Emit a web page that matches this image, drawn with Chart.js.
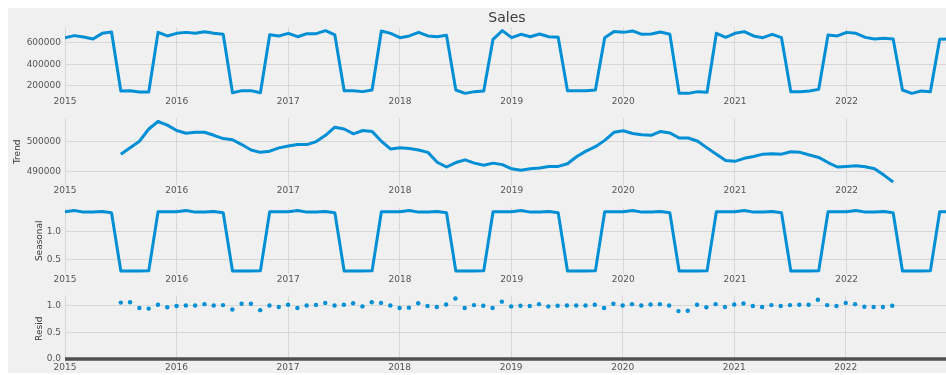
<!DOCTYPE html>
<html>
<head>
<meta charset="utf-8">
<script src="https://cdn.jsdelivr.net/npm/chart.js@4"></script>
<style>
html, body { margin: 0; padding: 0; background: #ffffff; overflow: hidden; width: 946px; height: 375px; }
#bg { position: absolute; left: 8px; top: 8px; width: 938px; height: 365px; background: #f0f0f0; }
canvas { position: absolute; left: 0; }
</style>
</head>
<body>
<div id="bg"></div>
<canvas id="sales" width="952" height="111" style="top:0px"></canvas>
<canvas id="trend" width="952" height="89" style="top:110px"></canvas>
<canvas id="seasonal" width="952" height="89" style="top:199px"></canvas>
<canvas id="resid" width="952" height="89" style="top:287px"></canvas>
<script>
// monthly series, Jan 2015 - Dec 2022
var years = ['2015', '2016', '2017', '2018', '2019', '2020', '2021', '2022'];

var sales = [
    646000, 665000, 652000, 634000, 686000, 698000, 154000, 157000, 145000, 145000, 695000, 662000,
    686000, 695000, 686000, 701000, 686000, 677000, 138000, 157000, 157000, 138000, 674000, 662000,
    686000, 655000, 683000, 683000, 711000, 671000, 157000, 157000, 148000, 163000, 708000, 686000,
    646000, 662000, 695000, 662000, 655000, 668000, 163000, 132000, 148000, 154000, 631000, 711000,
    646000, 677000, 655000, 680000, 655000, 649000, 157000, 157000, 157000, 163000, 646000, 702000,
    695000, 708000, 677000, 680000, 698000, 677000, 132000, 132000, 148000, 142000, 686000, 649000,
    686000, 702000, 662000, 646000, 677000, 646000, 148000, 148000, 154000, 169000, 671000, 662000,
    695000, 686000, 649000, 634000, 640000, 634000, 163000, 132000, 154000, 148000, 631000, 634000
];

// trend and resid only exist from Jul 2015 to Jun 2022 (12-month centred average)
var trendStart = 6;
var trend = [
                                            495700, 497800, 500000, 504100, 506600, 505400,
    503600, 502700, 503000, 503000, 502000, 500900, 500500, 498900, 497100, 496300, 496700, 497800,
    498400, 498900, 498900, 499900, 502000, 504700, 504100, 502500, 503600, 503300, 500000, 497400,
    497800, 497600, 497100, 496300, 493000, 491400, 492900, 493800, 492700, 492000, 492700, 492200,
    490800, 490300, 490800, 491100, 491600, 491600, 492500, 494900, 496700, 498200, 500300, 503000,
    503500, 502600, 502200, 502000, 503300, 502800, 501100, 501100, 500000, 497800, 495700, 493600,
    493300, 494300, 494900, 495700, 495800, 495700, 496500, 496300, 495400, 494600, 492900, 491400,
    491600, 491800, 491500, 490800, 488700, 486400
];

var seasonal = [
    1.343, 1.365, 1.337, 1.337, 1.348, 1.326, 0.298, 0.298, 0.298, 0.300, 1.343, 1.343,
    1.343, 1.365, 1.337, 1.337, 1.348, 1.326, 0.298, 0.298, 0.298, 0.300, 1.343, 1.343,
    1.343, 1.365, 1.337, 1.337, 1.348, 1.326, 0.298, 0.298, 0.298, 0.300, 1.343, 1.343,
    1.343, 1.365, 1.337, 1.337, 1.348, 1.326, 0.298, 0.298, 0.298, 0.300, 1.343, 1.343,
    1.343, 1.365, 1.337, 1.337, 1.348, 1.326, 0.298, 0.298, 0.298, 0.300, 1.343, 1.343,
    1.343, 1.365, 1.337, 1.337, 1.348, 1.326, 0.298, 0.298, 0.298, 0.300, 1.343, 1.343,
    1.343, 1.365, 1.337, 1.337, 1.348, 1.326, 0.298, 0.298, 0.298, 0.300, 1.343, 1.343,
    1.343, 1.365, 1.337, 1.337, 1.348, 1.326, 0.298, 0.298, 0.298, 0.300, 1.343, 1.343
];

var resid = [
                                      1.053, 1.059, 0.953, 0.941, 1.012, 0.965,
    0.988, 1.000, 1.000, 1.024, 1.000, 1.006, 0.924, 1.030, 1.030, 0.912, 1.000, 0.970,
    1.012, 0.953, 1.000, 1.010, 1.047, 1.000, 1.012, 1.041, 0.982, 1.059, 1.047, 1.000,
    0.953, 0.959, 1.041, 0.988, 0.971, 1.018, 1.129, 0.953, 1.006, 0.994, 0.953, 1.071,
    0.982, 0.994, 0.988, 1.024, 0.982, 0.994, 1.000, 1.000, 1.000, 1.012, 0.953, 1.030,
    1.000, 1.024, 1.000, 1.018, 1.024, 1.000, 0.894, 0.900, 1.012, 0.965, 1.024, 0.971,
    1.018, 1.035, 0.988, 0.971, 1.006, 0.988, 1.006, 1.012, 1.012, 1.106, 1.006, 0.988,
    1.047, 1.024, 0.976, 0.971, 0.971, 0.994
];

var salesTicks = [200000, 400000, 600000];
var trendTicks = [490000, 500000];
var seasonalTicks = [0.5, 1.0];
var residTicks = [0.0, 0.5, 1.0];

var BLUE = '#008fd5';
var GRID = '#d7d7d7';
var TICK = '#555555';
var LABEL = '#3a3a3a';
var FONT = 'DejaVu Sans';
var LAST_MONTH = 95;

// x value is months since Jan 2015
function points(values, start) {
    return values.map(function (v, i) { return {x: start + i, y: v}; });
}

// matplotlib-style autoscale: data range plus 5% each side
function autoRange(values) {
    var lo = Math.min.apply(null, values);
    var hi = Math.max.apply(null, values);
    var m = (hi - lo) * 0.05;
    return {min: lo - m, max: hi + m};
}

function lineSet(data) {
    return {
        data: data,
        borderColor: BLUE,
        borderWidth: 3,
        borderJoinStyle: 'round',
        pointRadius: 0,
        tension: 0,
        fill: false
    };
}

function makePanel(id, p) {
    var range = autoRange(p.range);
    var yScale = {
        min: range.min,
        max: range.max,
        afterBuildTicks: function (s) {
            s.ticks = p.ticks.map(function (v) { return {value: v}; });
        },
        afterFit: function (s) { s.width = 65; },
        ticks: {
            padding: 4,
            color: TICK,
            font: {family: FONT, size: 9, lineHeight: 1},
            callback: p.format
        },
        grid: {color: GRID, drawTicks: false},
        border: {display: false},
        title: {
            display: !!p.label,
            text: p.label || '',
            color: LABEL,
            font: {family: FONT, size: 9, lineHeight: 1},
            padding: {top: p.labelPad || 0, bottom: 0}
        }
    };

    var config = {
        type: 'line',
        data: {datasets: p.datasets},
        options: {
            responsive: false,
            animation: false,
            layout: {padding: {top: p.padTop, right: 3, left: 0, bottom: 0}},
            scales: {
                x: {
                    type: 'linear',
                    min: 0,
                    max: LAST_MONTH,
                    afterBuildTicks: function (s) {
                        s.ticks = years.map(function (y, i) { return {value: i * 12}; });
                    },
                    afterFit: function (s) { s.height = p.xHeight; },
                    ticks: {
                        autoSkip: false,
                        maxRotation: 0,
                        padding: 1,
                        color: TICK,
                        font: {family: FONT, size: 9, lineHeight: 1},
                        callback: function (v, i) { return years[i]; }
                    },
                    grid: {color: GRID, drawTicks: false},
                    border: {display: false}
                },
                y: yScale
            },
            plugins: {
                legend: {display: false},
                tooltip: {enabled: false},
                title: {
                    display: !!p.title,
                    text: p.title || '',
                    fullSize: false,
                    color: LABEL,
                    font: {family: FONT, size: 14, weight: 'normal', lineHeight: 1.2},
                    padding: {top: 10, bottom: 0.7}
                }
            }
        }
    };
    return new Chart(document.getElementById(id).getContext('2d'), config);
}

makePanel('sales', {
    title: 'Sales',
    padTop: 0,
    xHeight: 14.5,
    datasets: [lineSet(points(sales, 0))],
    range: sales,
    ticks: salesTicks,
    format: function (v) { return String(v); }
});

makePanel('trend', {
    label: 'Trend',
    labelPad: 13.5,
    padTop: 6,
    xHeight: 14,
    datasets: [lineSet(points(trend, trendStart))],
    range: trend,
    ticks: trendTicks,
    format: function (v) { return String(v); }
});

makePanel('seasonal', {
    label: 'Seasonal',
    labelPad: 34.7,
    padTop: 5.5,
    xHeight: 14,
    datasets: [lineSet(points(seasonal, 0))],
    range: seasonal,
    ticks: seasonalTicks,
    format: function (v) { return v.toFixed(1); }
});

// residuals as dots, with a zero baseline behind them
makePanel('resid', {
    label: 'Resid',
    labelPad: 35,
    padTop: 6,
    xHeight: 14,
    datasets: [
        {
            data: points(resid, trendStart),
            showLine: false,
            pointRadius: 2.2,
            pointBorderWidth: 0,
            pointBackgroundColor: BLUE,
            order: 0
        },
        {
            data: [{x: 0, y: 0}, {x: LAST_MONTH, y: 0}],
            borderColor: '#505050',
            borderWidth: 3.5,
            pointRadius: 0,
            order: 1
        }
    ],
    range: resid.concat([0]),
    ticks: residTicks,
    format: function (v) { return v.toFixed(1); }
});
</script>
</body>
</html>
